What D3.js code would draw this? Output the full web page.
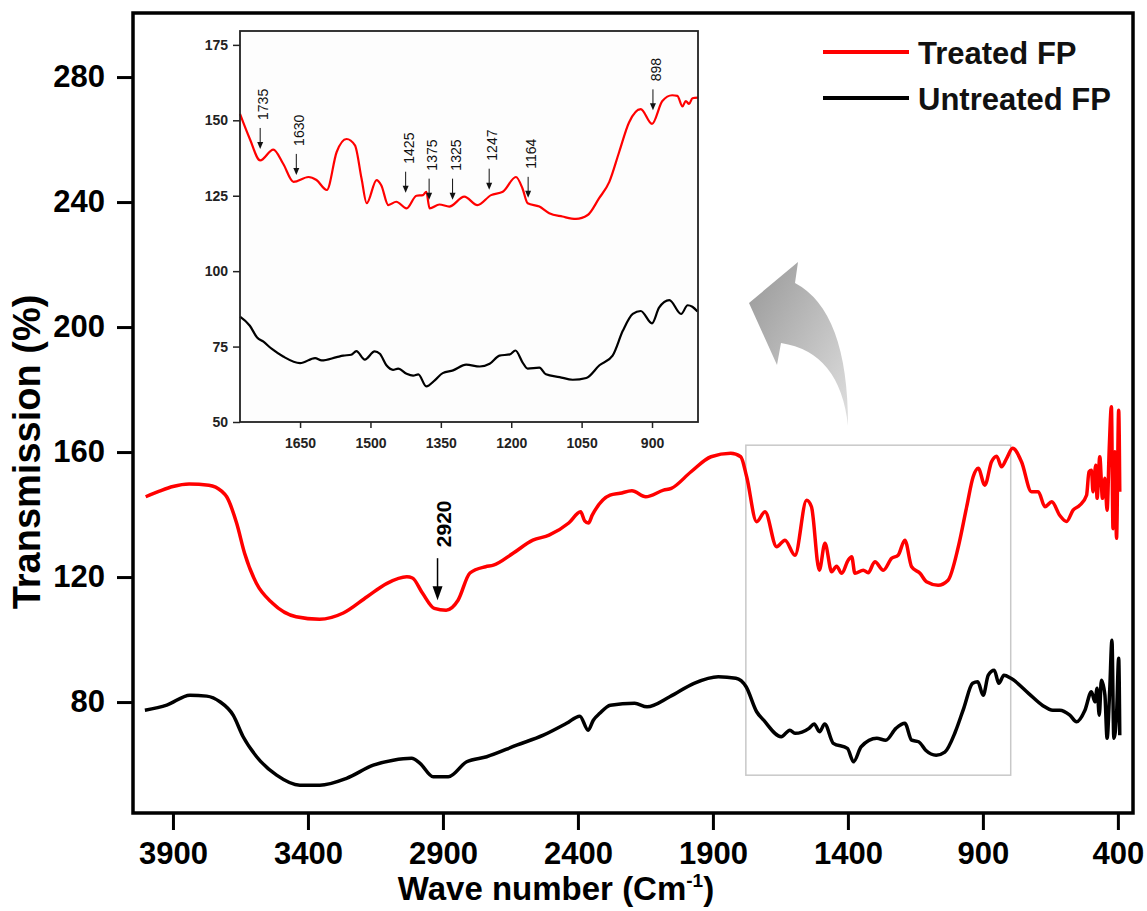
<!DOCTYPE html>
<html>
<head>
<meta charset="utf-8">
<script src="https://cdn.jsdelivr.net/npm/d3@7"></script>
<style>
  body { margin: 0; background: #fff; }
  text { font-family: "Liberation Sans", Arial, sans-serif; }
</style>
</head>
<body>
<script>
const width = 1147;
const height = 911;

// main spectra [wave number, transmission]
const treatedMain = [
  [4001,145.7],[3950,147.5],[3900,149],[3840,149.8],[3767,149.4],[3720,147.5],[3701,145.7],[3664,137.2],
  [3635,127.7],[3591,118],[3532,111.7],[3444,107.3],[3357,106.5],[3269,108.5],[3181,113.7],[3107,118],
  [3034,120.1],[3013,119.7],[2976,114.9],[2932,110],[2888,109.4],[2844,112.6],[2800,121.3],[2742,123.3],
  [2713,123.8],[2639,127.7],[2567,131.8],[2507,133.4],[2434,137.3],[2390,140.9],[2375,138],[2361,137.3],
  [2347,139.8],[2281,146.2],[2244,146.8],[2200,147.6],[2149,145.7],[2083,147.8],[2054,148.4],[1981,153.7],
  [1907,158.5],[1834,159.6],[1797,158.5],[1775,152.1],[1738,137.7],[1707,140.9],[1664,129.7],[1633,131.8],
  [1596,127],[1553,144.6],[1535,142.5],[1506,122.2],[1485,130.8],[1460,121.7],[1442,123.5],[1423,121.2],
  [1399,125.4],[1386,126.5],[1374,121.2],[1343,122.2],[1325,121.4],[1300,124.9],[1269,122.2],[1238,126],
  [1214,127],[1189,131.8],[1164,123.3],[1133,121.2],[1109,118.5],[1066,117.4],[1029,119],[991,129.7],
  [960,142.5],[936,152.1],[917,154.8],[893,149.4],[868,156.9],[849,158.7],[831,155.3],[812,158],
  [790,161.2],[757,156.9],[720,147.3],[695,147.3],[670,142.5],[645,144.1],[615,139.7],[590,137.8],
  [566,141.4],[541,143],[516,146.2],[507,153.7],[498,154.2],[492,147.3],[482,155.8],[477,145.2],
  [467,158.5],[457,145.2],[448,151.6],[440,141.4],[432,161.2],[424,174.5],[418,135.5],[411,160.1],
  [405,132.4],[397,173.4],[393,147.3]
];
const untreatedMain = [
  [4004,77.4],[3923,79],[3837,82.2],[3775,81.9],[3726,80.1],[3677,75.8],[3640,68.9],[3590,62.5],
  [3516,56.6],[3430,53.4],[3356,53.4],[3257,55.6],[3158,59.8],[3084,61.4],[3016,62],[2985,60.4],
  [2936,56.1],[2880,56.1],[2812,60.9],[2738,62.5],[2627,66.2],[2528,69.4],[2442,73.2],[2393,75.5],
  [2362,71],[2343,74.2],[2319,76.4],[2280,79],[2190,79.6],[2144,78.5],[2060,81.7],[1970,86],
  [1880,88.1],[1815,87.6],[1777,84.9],[1738,76.9],[1712,74.2],[1647,68.9],[1615,71],[1596,70],
  [1544,71.6],[1525,73],[1505,70.5],[1486,73],[1454,66.8],[1402,65.2],[1379,60.9],[1351,65.7],
  [1293,68.4],[1260,67.8],[1222,71.6],[1189,73.2],[1164,67.8],[1138,67.3],[1112,64.6],[1073,63],
  [1041,64],[1002,70.5],[971,78],[938,86],[919,86.5],[899,82.2],[880,88.6],[858,90.2],
  [841,86],[822,88.6],[796,87.6],[731,82.8],[680,79],[641,77.4],[615,77.4],[578,75.8],
  [553,73.7],[522,77.4],[498,83.3],[485,80.1],[477,84.4],[469,75.8],[461,87],[448,82.2],
  [440,68.4],[430,84.4],[422,99.8],[415,68.4],[405,75.8],[397,94],[393,69.4]
];

// inset (zoomed) spectra
const treatedInset = [
  [1778,152.1],[1757,143.8],[1735,136.7],[1707,140.3],[1686,135.6],[1664,129.6],[1632,131.2],[1615,130.2],
  [1593,126.9],[1572,139.5],[1551,143.8],[1533,141.7],[1519,130.7],[1508,122.5],[1487,130.2],[1477,128.5],
  [1462,121.9],[1445,123],[1423,120.8],[1402,125],[1388,125.2],[1381,126.3],[1374,120.8],[1353,122.1],
  [1332,121.4],[1300,124.7],[1272,121.9],[1243,125.2],[1218,126.3],[1190,131.2],[1176,127.4],[1165,122.5],
  [1140,121.4],[1119,119.2],[1091,118.1],[1062,117.3],[1037,118.6],[1013,124.1],[991,129.6],[970,139.5],
  [949,149.3],[924,153.7],[900,148.8],[878,156.4],[857,158.3],[846,158.1],[835,154.6],[828,156.4],
  [821,155.4],[814,157.3],[802,157.5]
];
const untreatedInset = [
  [1778,84.9],[1757,81.9],[1742,78.1],[1728,76.6],[1710,74.2],[1686,71.7],[1650,69.5],[1618,71.2],
  [1604,70.4],[1572,71.5],[1558,72],[1541,72.3],[1530,73.5],[1512,70.7],[1491,73.4],[1480,72.6],
  [1466,68.8],[1452,67.3],[1441,67.7],[1423,66],[1409,65.4],[1398,65.8],[1381,61.8],[1363,63.8],
  [1346,66.2],[1324,67.1],[1296,69],[1267,68.4],[1246,69.3],[1225,72],[1203,72.4],[1191,73.7],
  [1176,69.8],[1165,67.7],[1140,68],[1126,65.8],[1097,64.9],[1069,64],[1040,64.6],[1012,68.8],
  [984,72],[962,80.3],[941,85.8],[924,86.8],[900,82.7],[885,87.9],[863,90.4],[838,85.8],
  [824,88.7],[814,88.2],[803,86.6]
];

const seriesNames = ["Treated FP", "Untreated FP"];
const seriesColors = ["#ff0000", "#000000"];

const mainXTicks = [3900, 3400, 2900, 2400, 1900, 1400, 900, 400];
const mainYTicks = [80, 120, 160, 200, 240, 280];
const insetXTicks = [1650, 1500, 1350, 1200, 1050, 900];
const insetYTicks = [50, 75, 100, 125, 150, 175];

// peak annotations in the inset: label, arrow position, value at arrow tip
const peakLabels = ["1735", "1630", "1425", "1375", "1325", "1247", "1164", "898"];
const peakPos = [1735, 1658, 1425, 1375, 1325, 1247, 1164, 898];
const peakTip = [140.5, 131.9, 126, 123.7, 123.7, 127, 124.3, 153.3];

// main annotation
const mainPeak = { label: "2920", pos: 2920, tip: 112.6 };
// zoom window drawn on the main chart
const zoomWin = { x0: 1778, x1: 797, y0: 162.2, y1: 56.6 };

const svg = d3.select("body").append("svg")
  .attr("width", width)
  .attr("height", height);

const defs = svg.append("defs");
const grad = defs.append("linearGradient")
  .attr("id", "arrowGrad")
  .attr("x1", "0%").attr("y1", "0%").attr("x2", "100%").attr("y2", "100%");
grad.append("stop").attr("offset", "0%").attr("stop-color", "#8c8c8c");
grad.append("stop").attr("offset", "100%").attr("stop-color", "#dcdcdc");

// ---- main chart
const x = d3.scaleLinear().domain([4048, 344]).range([133, 1133]);
const y = d3.scaleLinear().domain([44.5, 300.5]).range([813, 13]);

const line = d3.line()
  .x(d => x(d[0]))
  .y(d => y(d[1]))
  .curve(d3.curveMonotoneX);

const xAxis = svg.append("g")
  .attr("transform", "translate(0,813)")
  .call(d3.axisBottom(x).tickValues(mainXTicks).tickSize(17).tickPadding(12).tickFormat(d3.format("d")));
xAxis.select(".domain").remove();
xAxis.selectAll("line").attr("stroke", "#000").attr("stroke-width", 3);
xAxis.selectAll("text")
  .attr("fill", "#000")
  .style("font-size", "31px")
  .style("font-weight", "bold");

const yAxis = svg.append("g")
  .attr("transform", "translate(133,0)")
  .call(d3.axisLeft(y).tickValues(mainYTicks).tickSize(16).tickPadding(12));
yAxis.select(".domain").remove();
yAxis.selectAll("line").attr("stroke", "#000").attr("stroke-width", 3);
yAxis.selectAll("text")
  .attr("fill", "#000")
  .style("font-size", "31px")
  .style("font-weight", "bold");

// zoom window
svg.append("rect")
  .attr("x", x(zoomWin.x0))
  .attr("y", y(zoomWin.y0))
  .attr("width", x(zoomWin.x1) - x(zoomWin.x0))
  .attr("height", y(zoomWin.y1) - y(zoomWin.y0))
  .attr("fill", "none")
  .attr("stroke", "#c8c8c8")
  .attr("stroke-width", 1.5);

// spectra
svg.append("path").datum(untreatedMain)
  .attr("d", line)
  .attr("fill", "none")
  .attr("stroke", seriesColors[1])
  .attr("stroke-width", 3.5)
  .attr("stroke-linejoin", "round");
svg.append("path").datum(treatedMain)
  .attr("d", line)
  .attr("fill", "none")
  .attr("stroke", seriesColors[0])
  .attr("stroke-width", 3.5)
  .attr("stroke-linejoin", "round");

// frame
svg.append("rect")
  .attr("x", 133).attr("y", 13)
  .attr("width", 1000).attr("height", 800)
  .attr("fill", "none")
  .attr("stroke", "#000")
  .attr("stroke-width", 3.5);

// 2920 arrow
{
  const px = x(mainPeak.pos), tipY = y(mainPeak.tip);
  svg.append("line")
    .attr("x1", px).attr("x2", px)
    .attr("y1", tipY - 42).attr("y2", tipY - 12)
    .attr("stroke", "#000").attr("stroke-width", 1.5);
  svg.append("path")
    .attr("d", `M${px - 5},${tipY - 14} L${px + 5},${tipY - 14} L${px},${tipY} Z`)
    .attr("fill", "#000");
  svg.append("text")
    .attr("transform", `translate(${px + 13},${tipY - 53}) rotate(-90)`)
    .attr("text-anchor", "start")
    .style("font-size", "21px")
    .style("font-weight", "bold")
    .text(mainPeak.label);
}

// axis titles
svg.append("text")
  .attr("transform", "translate(40,452) rotate(-90)")
  .attr("text-anchor", "middle")
  .style("font-size", "38px")
  .style("font-weight", "bold")
  .text("Transmission (%)");

const xt = svg.append("text")
  .attr("x", 556).attr("y", 900)
  .attr("text-anchor", "middle")
  .style("font-size", "33px")
  .style("font-weight", "bold");
xt.append("tspan").text("Wave number (Cm");
xt.append("tspan").attr("dy", -13).style("font-size", "19px").text("-1");
xt.append("tspan").attr("dy", 13).text(")");

// legend
const legend = svg.append("g");
seriesNames.forEach((name, i) => {
  const ly = 52 + i * 46;
  legend.append("line")
    .attr("x1", 823).attr("x2", 909)
    .attr("y1", ly).attr("y2", ly)
    .attr("stroke", seriesColors[i])
    .attr("stroke-width", 4);
  legend.append("text")
    .attr("x", 918).attr("y", ly + 12)
    .style("font-size", "31px")
    .style("font-weight", "bold")
    .attr("fill", "#111")
    .text(name);
});

// curved grey arrow pointing to the inset
svg.append("path")
  .attr("d", "M848,426 Q848,311 795,283 L798,262 L749,303 L777,365 L781,343 Q840,352 848,426 Z")
  .attr("fill", "url(#arrowGrad)")
  .attr("opacity", 0.9);

// ---- inset
const ix = d3.scaleLinear().domain([1778, 802]).range([240, 698]);
const iy = d3.scaleLinear().domain([50, 179.6]).range([422, 31]);

const iline = d3.line()
  .x(d => ix(d[0]))
  .y(d => iy(d[1]))
  .curve(d3.curveMonotoneX);

const inset = svg.append("g");
inset.append("rect")
  .attr("x", 240).attr("y", 31)
  .attr("width", 458).attr("height", 391)
  .attr("fill", "#fdfdfd");

const ixAxis = inset.append("g")
  .attr("transform", "translate(0,422)")
  .call(d3.axisBottom(ix).tickValues(insetXTicks).tickSize(6).tickPadding(10).tickFormat(d3.format("d")));
ixAxis.select(".domain").remove();
ixAxis.selectAll("line").attr("stroke", "#222").attr("stroke-width", 1.5);
ixAxis.selectAll("text")
  .attr("fill", "#222")
  .style("font-size", "14px")
  .style("font-weight", "bold");

const iyAxis = inset.append("g")
  .attr("transform", "translate(240,0)")
  .call(d3.axisLeft(iy).tickValues(insetYTicks).tickSize(7).tickPadding(5));
iyAxis.select(".domain").remove();
iyAxis.selectAll("line").attr("stroke", "#222").attr("stroke-width", 1.5);
iyAxis.selectAll("text")
  .attr("fill", "#222")
  .style("font-size", "14px")
  .style("font-weight", "bold");

inset.append("path").datum(untreatedInset)
  .attr("d", iline)
  .attr("fill", "none")
  .attr("stroke", seriesColors[1])
  .attr("stroke-width", 2.2);
inset.append("path").datum(treatedInset)
  .attr("d", iline)
  .attr("fill", "none")
  .attr("stroke", seriesColors[0])
  .attr("stroke-width", 2.2);

inset.append("rect")
  .attr("x", 240).attr("y", 31)
  .attr("width", 458).attr("height", 391)
  .attr("fill", "none")
  .attr("stroke", "#222")
  .attr("stroke-width", 1.8);

peakLabels.forEach((lab, i) => {
  const px = ix(peakPos[i]), tipY = iy(peakTip[i]);
  inset.append("line")
    .attr("x1", px).attr("x2", px)
    .attr("y1", tipY - 21).attr("y2", tipY - 6)
    .attr("stroke", "#111").attr("stroke-width", 1);
  inset.append("path")
    .attr("d", `M${px - 3},${tipY - 7} L${px + 3},${tipY - 7} L${px},${tipY} Z`)
    .attr("fill", "#111");
  inset.append("text")
    .attr("transform", `translate(${px + 8},${tipY - 29}) rotate(-90)`)
    .attr("text-anchor", "start")
    .attr("fill", "#111")
    .style("font-size", "14px")
    .text(lab);
});
</script>
</body>
</html>
